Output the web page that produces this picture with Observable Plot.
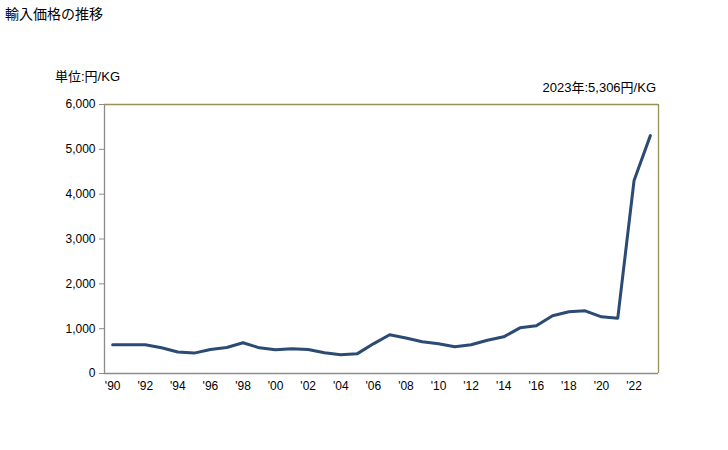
<!DOCTYPE html>
<html>
<head>
<meta charset="utf-8">
<script src="https://cdn.jsdelivr.net/npm/d3@7"></script>
<script src="https://cdn.jsdelivr.net/npm/@observablehq/plot@0.6"></script>
<style>
  html, body { margin: 0; padding: 0; background: #fff; }
  #wrap { position: relative; width: 728px; height: 450px; font-family: "Liberation Sans", "Noto Sans CJK JP", sans-serif; color: #000; }
  .lbl { position: absolute; white-space: nowrap; font-size: 13px; }
</style>
</head>
<body>
<div id="wrap">
  <div class="lbl" id="title" style="left:5px; top:3px; font-size:14px;">輸入価格の推移</div>
  <div class="lbl" id="unit" style="left:55px; top:66px;">単位:円/KG</div>
  <div class="lbl" id="note" style="right:72px; top:77px;">2023年:5,306円/KG</div>
</div>
<script>
const years = [1990,1991,1992,1993,1994,1995,1996,1997,1998,1999,2000,2001,2002,2003,2004,2005,2006,2007,2008,2009,2010,2011,2012,2013,2014,2015,2016,2017,2018,2019,2020,2021,2022,2023];
const prices = [640,640,640,573,480,455,535,580,685,573,528,550,535,461,418,438,662,863,790,707,662,598,640,743,818,1019,1064,1287,1376,1398,1264,1234,4305,5306];
const yTicks = [0,1000,2000,3000,4000,5000,6000];
const xTicks = years.filter(y => y % 2 === 0);

const data = years.map((y, i) => ({year: y, price: prices[i]}));
const x0 = d3.min(years) - 0.5, x1 = d3.max(years) + 0.5;

const chart = Plot.plot({
  width: 728,
  height: 450,
  marginLeft: 104,
  marginRight: 70,
  marginTop: 104,
  marginBottom: 77,
  style: {fontFamily: "'Liberation Sans', 'Noto Sans CJK JP', sans-serif", fontSize: "12px", color: "#000", background: "transparent"},
  x: {domain: [x0, x1], ticks: xTicks, tickFormat: d => "'" + String(d % 100).padStart(2, "0"), tickSize: 0, tickPadding: 8, label: null},
  y: {domain: [0, 6000], ticks: yTicks, tickFormat: d3.format(","), tickSize: 5, tickPadding: 4, label: null},
  marks: [
    Plot.ruleY([6000], {stroke: "#9a8f55", strokeWidth: 1.3}),
    Plot.ruleX([x1], {stroke: "#9a8f55", strokeWidth: 1.3}),
    Plot.ruleY([0], {stroke: "#8c8c8c", strokeWidth: 1.3}),
    Plot.ruleX([x0], {stroke: "#8c8c8c", strokeWidth: 1.3}),
    Plot.axisY({ticks: yTicks, tickFormat: d3.format(","), tickSize: 5, tickPadding: 4, stroke: "#8c8c8c", label: null, fontSize: 12}),
    Plot.axisX({ticks: xTicks, tickFormat: d => "'" + String(d % 100).padStart(2, "0"), tickSize: 0, tickPadding: 8, label: null, fontSize: 12}),
    Plot.line(data, {x: "year", y: "price", stroke: "#2b4a74", strokeWidth: 3, strokeLinejoin: "round", strokeLinecap: "round"})
  ]
});
chart.style.position = "absolute";
chart.style.left = "0px";
chart.style.top = "0px";
document.getElementById("wrap").prepend(chart);
</script>
</body>
</html>
